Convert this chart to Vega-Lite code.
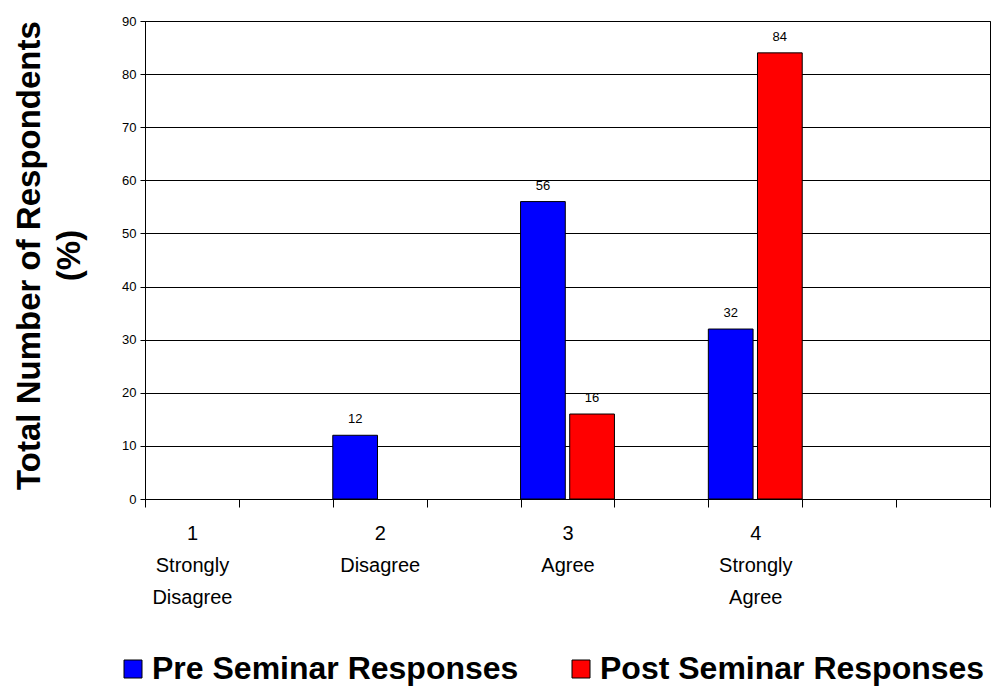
{
  "$schema": "https://vega.github.io/schema/vega-lite/v6.json",
  "width": 845,
  "height": 478,
  "autosize": {"type": "none"},
  "padding": {"left": 145, "top": 21, "right": 18, "bottom": 189},
  "background": "white",
  "config": {
    "font": "Liberation Sans",
    "view": {"stroke": "black", "strokeWidth": 1}
  },
  "data": {
    "values": [
      {"slot": "1|Strongly|Disagree", "series": "Pre Seminar Responses", "value": 0},
      {"slot": "1|Strongly|Disagree", "series": "Post Seminar Responses", "value": 0},
      {"slot": "2|Disagree", "series": "Pre Seminar Responses", "value": 12},
      {"slot": "2|Disagree", "series": "Post Seminar Responses", "value": 0},
      {"slot": "3|Agree", "series": "Pre Seminar Responses", "value": 56},
      {"slot": "3|Agree", "series": "Post Seminar Responses", "value": 16},
      {"slot": "4|Strongly|Agree", "series": "Pre Seminar Responses", "value": 32},
      {"slot": "4|Strongly|Agree", "series": "Post Seminar Responses", "value": 84}
    ]
  },
  "transform": [{"filter": "datum.value > 0"}],
  "encoding": {
    "x": {
      "field": "slot",
      "type": "nominal",
      "sort": null,
      "scale": {
        "domain": ["1|Strongly|Disagree", "e1", "2|Disagree", "e2", "3|Agree", "e3", "4|Strongly|Agree", "e4", "e5"],
        "paddingInner": 0,
        "paddingOuter": 0
      },
      "axis": {
        "title": null,
        "labelExpr": "indexof(datum.label, '|') >= 0 ? split(datum.label, '|') : ''",
        "labelAngle": 0,
        "labelFontSize": 20,
        "labelLineHeight": 32,
        "labelColor": "black",
        "labelPadding": 16,
        "labelBaseline": "top",
        "tickBand": "extent",
        "tickSize": 8,
        "tickColor": "black",
        "domainColor": "black",
        "grid": false
      }
    },
    "xOffset": {
      "field": "series",
      "type": "nominal",
      "scale": {"domain": ["Pre Seminar Responses", "Post Seminar Responses"], "paddingInner": 0.09, "paddingOuter": 0}
    },
    "y": {
      "field": "value",
      "type": "quantitative",
      "scale": {"domain": [0, 90]},
      "axis": {
        "values": [0, 10, 20, 30, 40, 50, 60, 70, 80, 90],
        "title": ["Total Number of Respondents", "(%)"],
        "titleFontSize": 33,
        "titleFontWeight": "bold",
        "titleColor": "black",
        "titleLineHeight": 40,
        "titleAngle": -90,
        "titleAlign": "center",
        "titleBaseline": "top",
        "titleX": -132,
        "titleY": 234,
        "labelFontSize": 13,
        "labelColor": "black",
        "labelPadding": 4,
        "tickSize": 5,
        "tickColor": "black",
        "domainColor": "black",
        "gridColor": "black",
        "gridOpacity": 1,
        "gridWidth": 1
      }
    }
  },
  "layer": [
    {
      "mark": {"type": "bar", "stroke": "black", "strokeWidth": 1},
      "encoding": {
        "color": {
          "field": "series",
          "type": "nominal",
          "scale": {"domain": ["Pre Seminar Responses", "Post Seminar Responses"], "range": ["#0000FF", "#FF0000"]},
          "legend": {
            "title": null,
            "orient": "none",
            "direction": "horizontal",
            "legendX": -28,
            "legendY": 632,
            "symbolType": "square",
            "symbolSize": 324,
            "symbolStrokeColor": "black",
            "symbolStrokeWidth": 1,
            "symbolOpacity": 1,
            "labelFontSize": 32,
            "labelFontWeight": "bold",
            "labelColor": "black",
            "labelOffset": 3,
            "labelLimit": 600,
            "columnPadding": 46
          }
        }
      }
    },
    {
      "mark": {"type": "text", "baseline": "bottom", "dy": -9, "fontSize": 13, "color": "black"},
      "encoding": {"text": {"field": "value", "type": "quantitative"}}
    }
  ]
}
